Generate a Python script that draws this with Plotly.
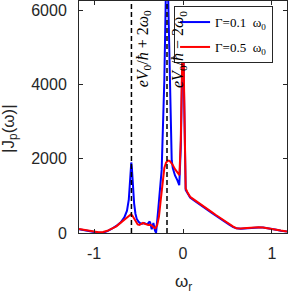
import plotly.graph_objects as go

# ---------------- data ----------------
w_red = [-1.17, -1.10, -1.02, -0.95, -0.90, -0.85, -0.80, -0.75, -0.70, -0.65, -0.62, -0.60,
         -0.585, -0.57, -0.55, -0.53, -0.51, -0.49, -0.47, -0.45, -0.43, -0.41, -0.39, -0.37,
         -0.35, -0.33, -0.31, -0.29, -0.27, -0.25, -0.23, -0.21, -0.19, -0.17, -0.15, -0.12,
         -0.09, -0.06, -0.04, -0.025, -0.012, 0.0, 0.01, 0.02, 0.03, 0.05, 0.08, 0.12, 0.17,
         0.22, 0.27, 0.32, 0.37, 0.42, 0.47, 0.52, 0.565, 0.60, 0.65, 0.72, 0.78, 0.85, 0.90,
         0.95, 1.00, 1.05, 1.10, 1.17]
j_red = [107, 85, 45, 20, 25, 60, 120, 180, 280, 370, 440, 480,
         505, 470, 380, 300, 230, 215, 250, 270, 250, 230, 215, 220,
         200, 150, 130, 220, 450, 900, 1400, 1750, 1900, 1950, 1940, 1850,
         1720, 1620, 1560, 2500, 4500, 5920, 4200, 2000, 1200, 1100, 975, 905, 815,
         735, 655, 570, 485, 400, 320, 240, 170, 130, 120, 135, 148, 155, 150,
         135, 110, 90, 65, 40]

w_blue = [-1.17, -1.10, -1.02, -0.95, -0.90, -0.85, -0.80, -0.75, -0.70, -0.66, -0.63, -0.61,
          -0.60, -0.59, -0.582, -0.575, -0.565, -0.55, -0.535, -0.52, -0.50, -0.48, -0.46,
          -0.44, -0.42, -0.40, -0.38, -0.37, -0.352, -0.333, -0.315, -0.303, -0.28, -0.26,
          -0.24, -0.21, -0.19, -0.18, -0.17, -0.146, -0.127, -0.115, -0.09, -0.064, -0.042,
          -0.025, -0.012, 0.0, 0.01, 0.02, 0.03, 0.05, 0.08, 0.12, 0.17, 0.22, 0.27, 0.32,
          0.37, 0.42, 0.47, 0.52, 0.565, 0.60, 0.65, 0.72, 0.78, 0.85, 0.90, 0.95, 1.00,
          1.05, 1.10, 1.17]
j_blue = [100, 75, 35, 5, 10, 50, 115, 190, 290, 420, 600, 900,
          1250, 1700, 1900, 1750, 1300, 800, 520, 380, 300, 260, 250,
          270, 250, 240, 300, 290, 100, 270, 60, 5, 600, 1130,
          1700, 4115, 6700, 8200, 6700, 4115, 1960, 1750, 1550, 1425, 1290,
          2300, 4300, 5600, 4000, 1900, 1160, 1080, 955, 885, 795, 715, 635, 550,
          465, 380, 300, 225, 160, 125, 115, 130, 143, 150, 145,
          130, 105, 85, 60, 38]

dash_pos = [-0.58, -0.18]
dash_labels = ["<i>eV</i><sub>0</sub>/<i>ħ</i> + 2<i>ω</i><sub>0</sub>",
               "<i>eV</i><sub>0</sub>/<i>ħ</i> − 2<i>ω</i><sub>0</sub>"]
series_names = ["Γ=0.1&nbsp;&nbsp;ω<sub>0</sub>", "Γ=0.5&nbsp;&nbsp;ω<sub>0</sub>"]
x_ticks = [-1, 0, 1]
x_ticktext = ["-1", "0", "1"]
y_ticks = [0, 2000, 4000, 6000]
y_ticktext = ["0", "2000", "4000", "6000"]

# ---------------- figure ----------------
fig = go.Figure()
fig.add_trace(go.Scatter(x=w_blue, y=j_blue, mode="lines", name=series_names[0],
                         legendgroup="g1", line=dict(color="#0000FF", width=2)))
fig.add_trace(go.Scatter(x=w_red, y=j_red, mode="lines", name=series_names[1],
                         legendgroup="g2", line=dict(color="#FF0000", width=2)))

for xp in dash_pos:
    fig.add_shape(type="line", xref="x", yref="paper", x0=xp, x1=xp, y0=0, y1=1,
                  line=dict(color="black", width=1.5, dash="5px,3px"))

label_x = [-0.45, -0.048]
for lx, txt in zip(label_x, dash_labels):
    fig.add_annotation(x=lx, y=0.792, xref="x", yref="paper", text=txt, textangle=-90,
                       showarrow=False, xanchor="center", yanchor="middle",
                       font=dict(family="Liberation Serif", size=16, color="black"))

# axis titles
fig.add_annotation(x=-0.335, y=0.45, xref="paper", yref="paper",
                   text="|J<sub>p</sub>(ω)|", textangle=-90, showarrow=False,
                   xanchor="center", yanchor="middle",
                   font=dict(family="Liberation Sans", size=17, color="#262626"))
fig.add_annotation(x=0.5, y=-0.215, xref="paper", yref="paper",
                   text="ω<sub>r</sub>", showarrow=False,
                   xanchor="center", yanchor="middle",
                   font=dict(family="Liberation Sans", size=17, color="#262626"))

axis_common = dict(showline=True, linecolor="#262626", linewidth=1, mirror="ticks",
                   ticks="inside", ticklen=4, tickcolor="#262626", showgrid=False,
                   zeroline=False, automargin=False,
                   tickfont=dict(family="Liberation Sans", size=16, color="#262626"))

fig.update_xaxes(range=[-1.17, 1.17], tickvals=x_ticks, ticktext=x_ticktext,
                 ticklabelstandoff=6, **axis_common)
fig.update_yaxes(range=[0, 6250], tickvals=y_ticks, ticktext=y_ticktext,
                 ticklabelstandoff=8, **axis_common)

fig.update_layout(
    width=291, height=294,
    margin=dict(l=79, r=4, t=1, b=61, autoexpand=False),
    paper_bgcolor="white", plot_bgcolor="white",
    showlegend=True,
    legend=dict(x=0.933, y=0.978, xanchor="right", yanchor="top",
                bgcolor="white", bordercolor="#262626", borderwidth=1,
                font=dict(family="Liberation Serif", size=13, color="black"),
                itemwidth=30, tracegroupgap=5),
)

fig.write_html("out.html", config={"displayModeBar": False},
               post_script="document.body.style.margin='0px';document.body.style.overflow='hidden';")
